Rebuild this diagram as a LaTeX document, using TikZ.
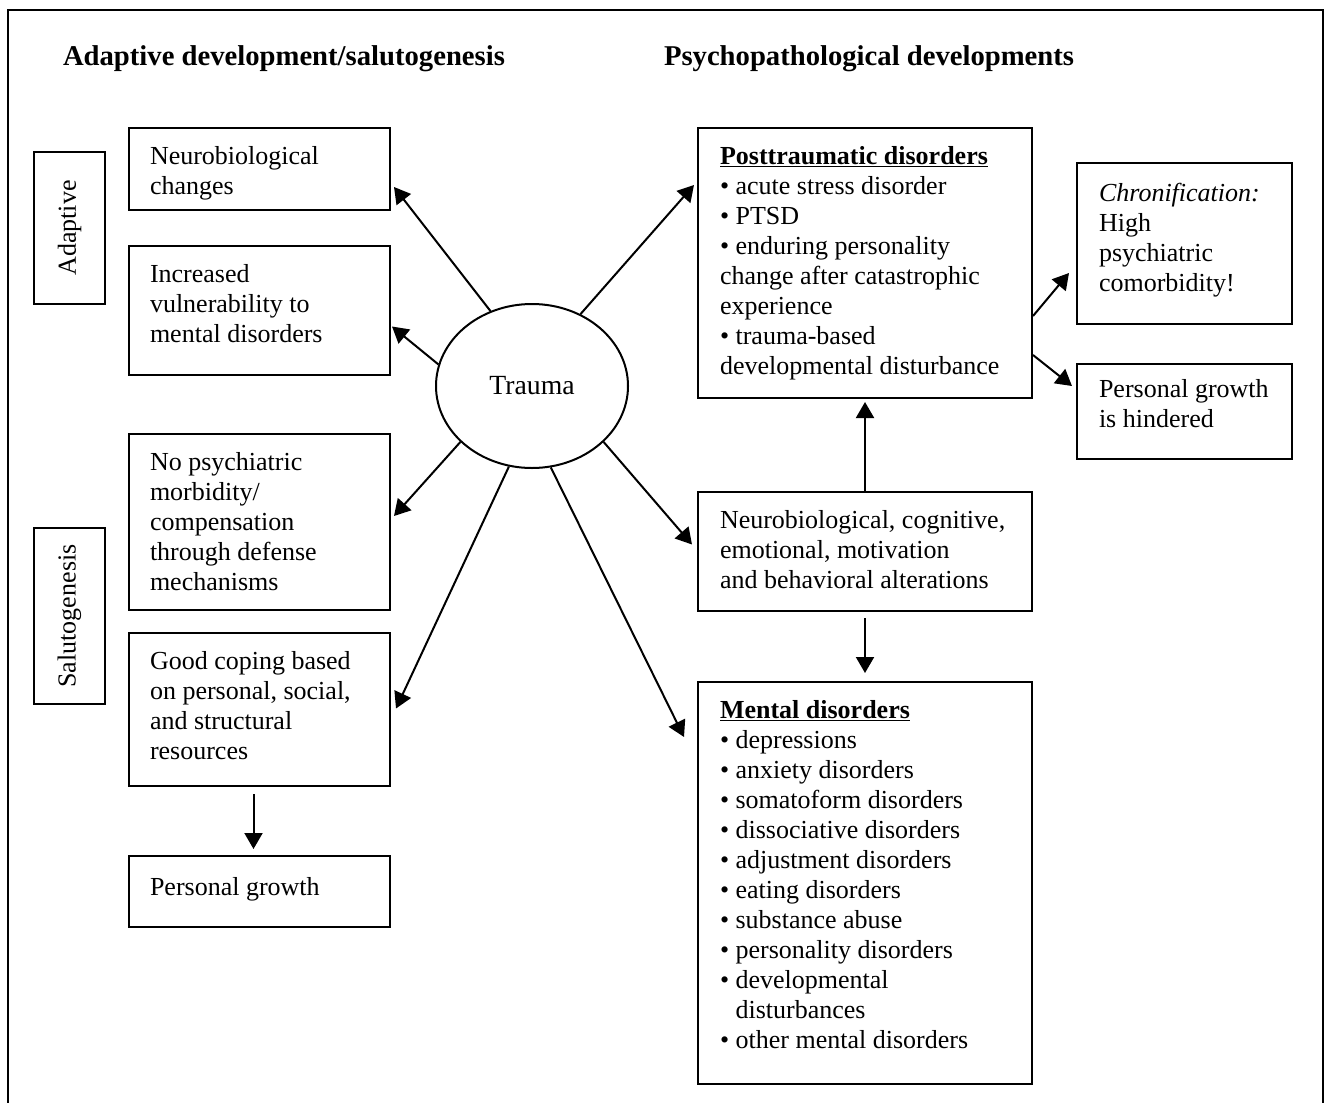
\documentclass[tikz,border=0pt]{standalone}
\usepackage{fontspec}
\setmainfont{Liberation Serif}
\usetikzlibrary{arrows.meta,calc,fit,shapes.geometric}
\begin{document}
\begin{tikzpicture}[x=0.75pt,y=-0.75pt,
  line width=1.5pt,
  box/.style={draw, rectangle, inner sep=0pt, line width=1.5pt},
  txt/.style={anchor=north west, inner sep=0pt, align=left, font=\fontsize{19.5}{22.5}\selectfont},
  ttl/.style={anchor=base west, inner sep=0pt, font=\fontsize{21.5}{24}\selectfont\bfseries},
  vlab/.style={rotate=90, inner sep=0pt, font=\fontsize{19.5}{22.5}\selectfont},
  arr/.style={-{Triangle[length=12pt,width=13.5pt]}, line width=1.5pt},
]
\useasboundingbox (0,0) rectangle (1328,1103);
% outer frame (bottom edge lies below the picture)
\draw[line width=1.8pt] (8,1120) -- (8,10) -- (1323,10) -- (1323,1120);

% titles
\node[ttl] (t1) at (62,65) {Adaptive development/salutogenesis};
\node[ttl] (t2) at (663,65) {Psychopathological developments};

% side labels
\node[box, fit={(34,152) (105,304)}] (adb) {};
\node[vlab] (adt) at (adb.center) {Adaptive};
\node[box, fit={(34,528) (105,704)}] (sab) {};
\node[vlab] (sat) at (sab.center) {Salutogenesis};

% left boxes
\node[box, fit={(129,128) (390,210)}] (nb) {};
\node[txt] (nbt) at (149,142) {\strut Neurobiological\\changes};
\node[box, fit={(129,246) (390,375)}] (inc) {};
\node[txt] (inct) at (149,260) {\strut Increased\\vulnerability to\\mental disorders};
\node[box, fit={(129,434) (390,610)}] (nop) {};
\node[txt] (nopt) at (149,448) {\strut No psychiatric\\morbidity/\\compensation\\through defense\\mechanisms};
\node[box, fit={(129,633) (390,786)}] (good) {};
\node[txt] (goodt) at (149,647) {\strut Good coping based\\on personal, social,\\and structural\\resources};
\node[box, fit={(129,856) (390,927)}] (pg) {};
\node[txt] (pgt) at (149,873) {\strut Personal growth};

% trauma
\node[draw, ellipse, minimum width=144pt, minimum height=123pt, inner sep=0pt,
      font=\fontsize{20.8}{23}\selectfont] (tr) at (532,386) {Trauma};

% right boxes
\node[box, fit={(698,128) (1032,398)}] (post) {};
\node[txt] (postt) at (719,142) {\strut\underline{\textbf{Posttraumatic disorders}}\\
• acute stress disorder\\
• PTSD\\
• enduring personality\\
change after catastrophic\\
experience\\
• trauma-based\\
developmental disturbance};
\node[box, fit={(1077,163) (1292,324)}] (chr) {};
\node[txt] (chrt) at (1098,179) {\strut\textit{Chronification:}\\High\\psychiatric\\comorbidity!};
\node[box, fit={(1077,364) (1292,459)}] (hind) {};
\node[txt] (hindt) at (1098,375) {\strut Personal growth\\is hindered};
\node[box, fit={(698,492) (1032,611)}] (alt) {};
\node[txt] (altt) at (719,506) {\strut Neurobiological, cognitive,\\emotional, motivation\\and behavioral alterations};
\node[box, fit={(698,682) (1032,1084)}] (ment) {};
\node[txt] (mentt) at (719,696) {\strut\underline{\textbf{Mental disorders}}\\
• depressions\\
• anxiety disorders\\
• somatoform disorders\\
• dissociative disorders\\
• adjustment disorders\\
• eating disorders\\
• substance abuse\\
• personality disorders\\
• developmental\\
\hphantom{• }disturbances\\
• other mental disorders};

% arrows from trauma
\draw[arr] (tr.119.6) -- ($(nb.east)+(3,18)$);
\draw[arr] (tr.167) -- ($(inc.east)+(1,16)$);
\draw[arr] (tr.56) -- ($(post.north west)+(-3,58)$);
\draw[arr] (tr.218) -- ($(nop.east)+(3,-6)$);
\draw[arr] (tr.254) -- ($(good.east)+(5,-1)$);
\draw[arr] (tr.283) -- ($(ment.north west)+(-13,56)$);
\draw[arr] (tr.322.5) -- ($(alt.west)+(-5,-7)$);

% other arrows
\draw[arr] (alt.north) -- ($(post.south)+(0,3)$);
\draw[arr] ($(alt.south)+(0,6)$) -- ($(ment.north)+(0,-8)$);
\draw[arr] ($(good.south)+(-6,7)$) -- ($(pg.north)+(-6,-6)$);
\draw[arr] ($(post.south east)+(0,-83)$) -- ($(chr.south west)+(-7,-52)$);
\draw[arr] ($(post.south east)+(0,-44)$) -- ($(hind.north west)+(-4,23)$);
\end{tikzpicture}
\end{document}
